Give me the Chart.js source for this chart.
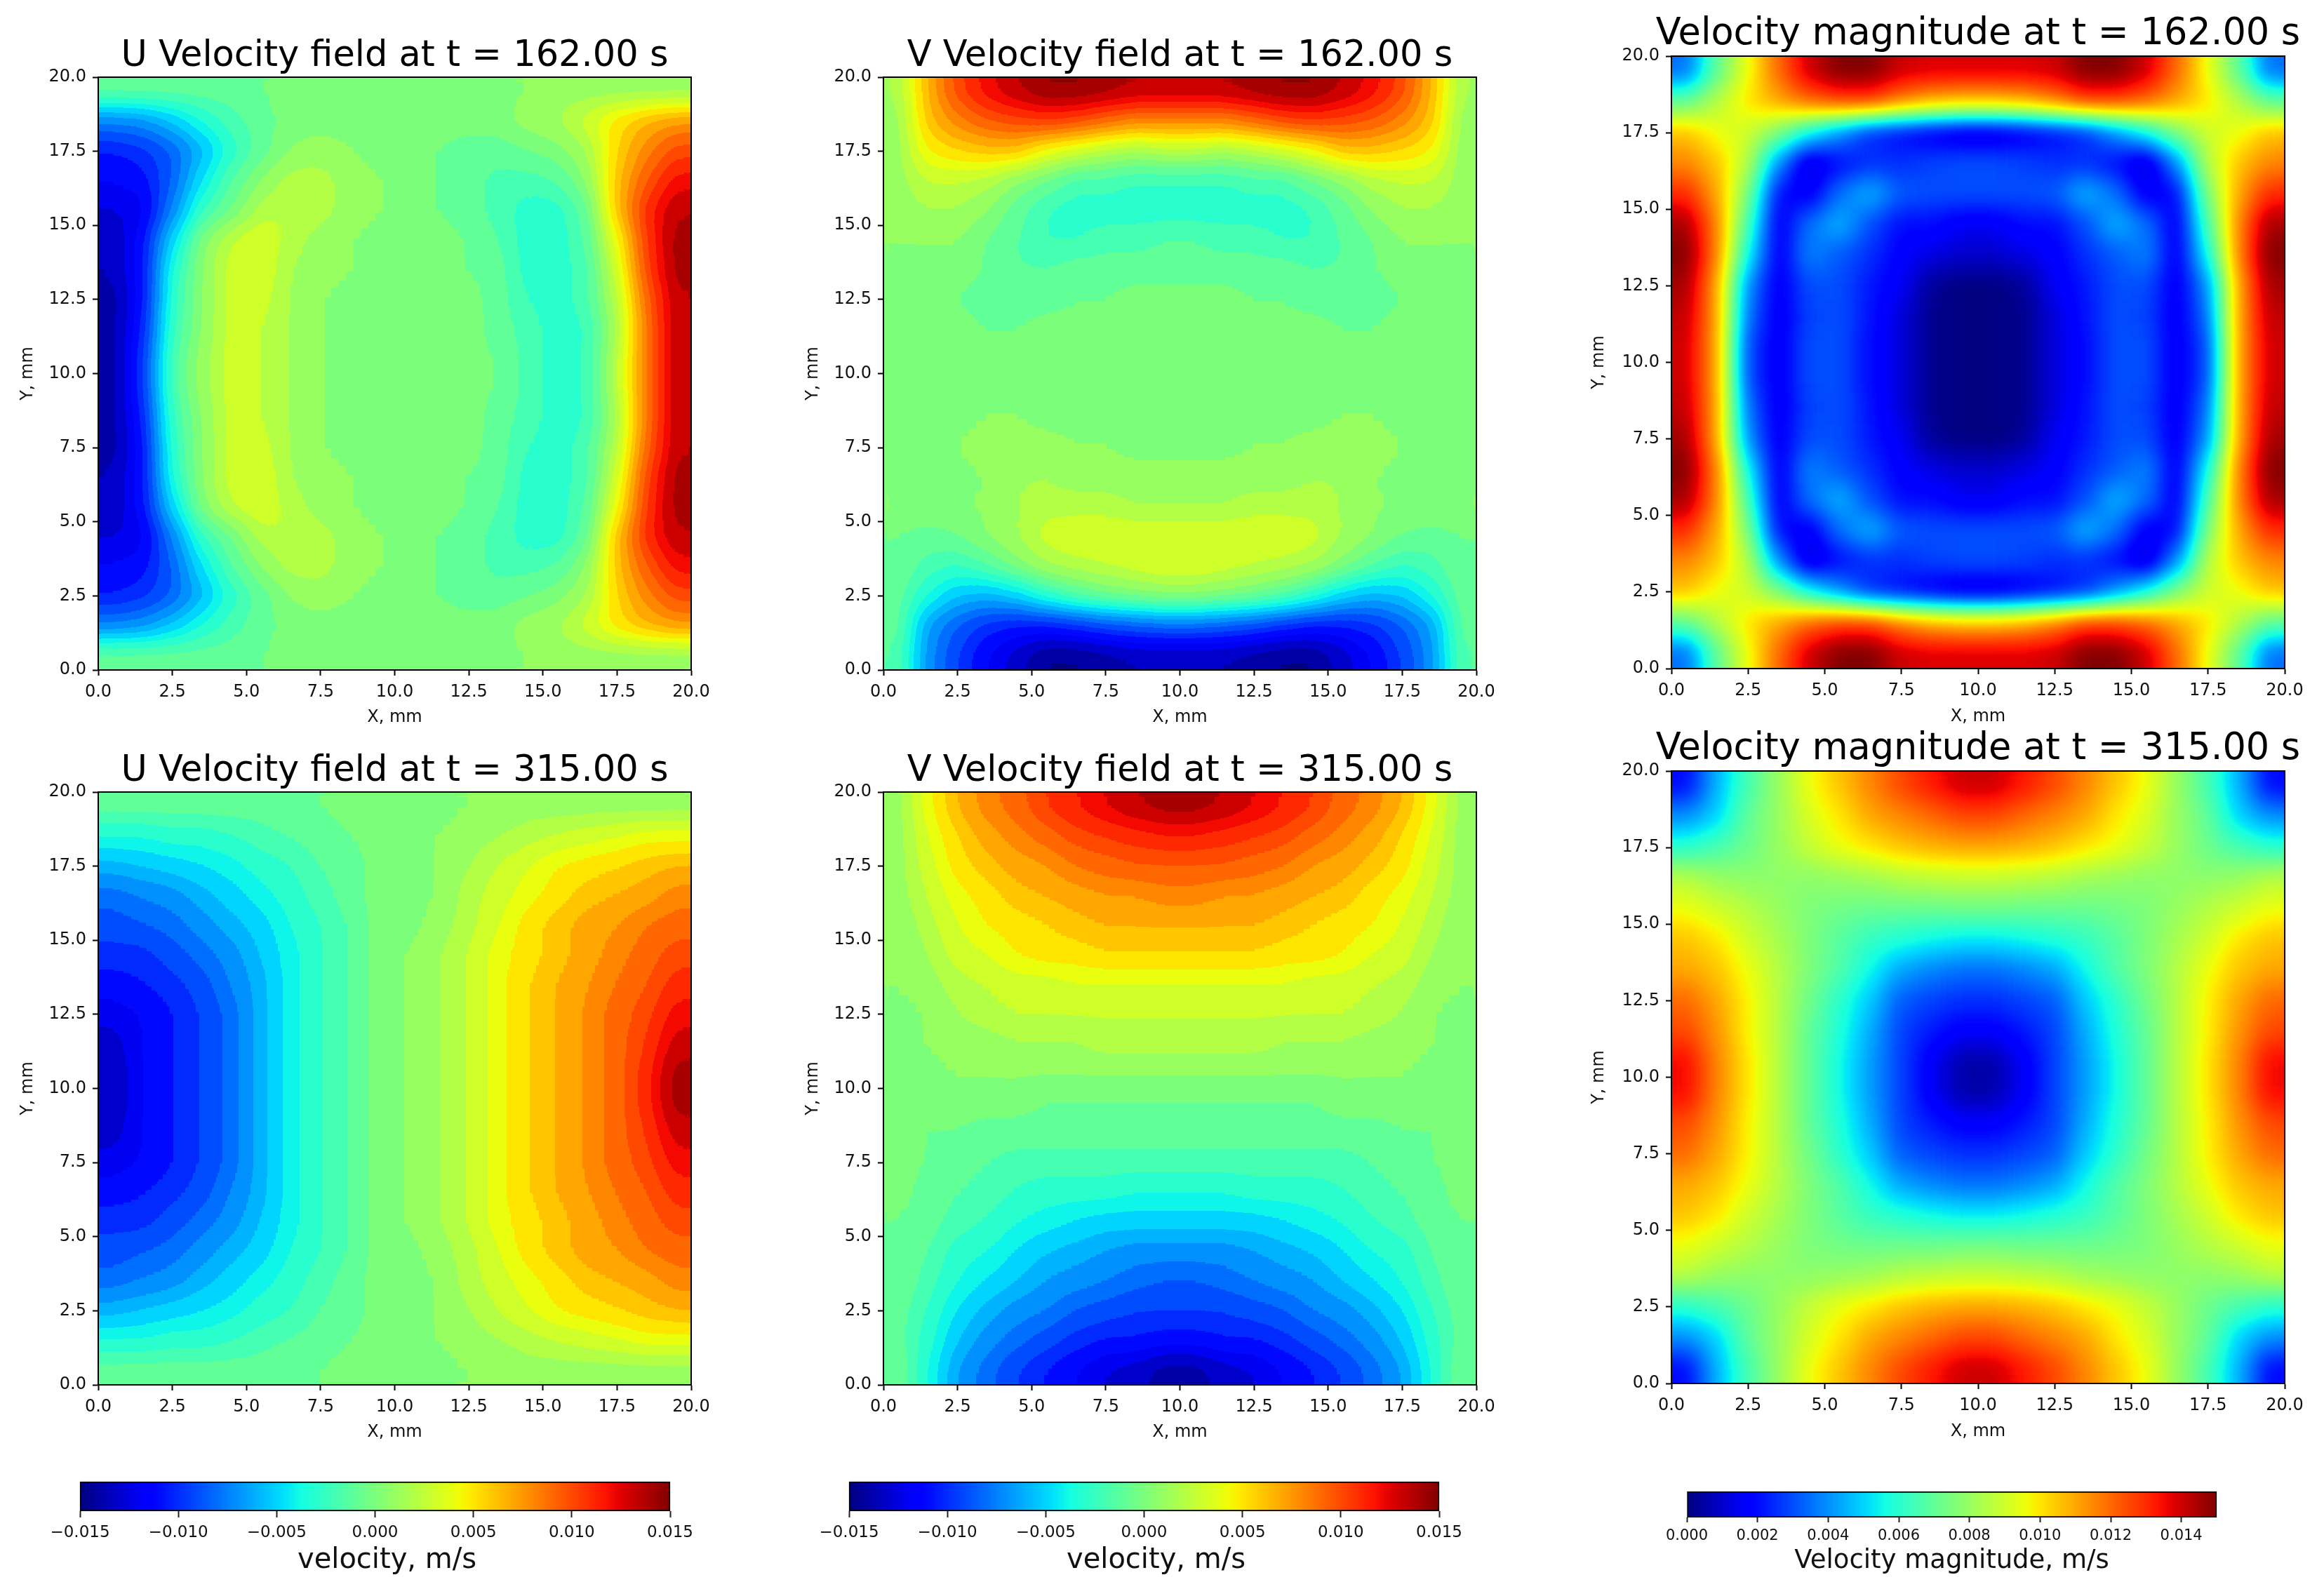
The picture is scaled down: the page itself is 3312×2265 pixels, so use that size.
<!DOCTYPE html>
<html>
<head>
<meta charset="utf-8">
<title>Velocity fields</title>
<script src="https://cdn.jsdelivr.net/npm/chart.js@4/dist/chart.umd.js"></script>
<style>
  html, body { margin: 0; background: #fff; }
  #page { position: relative; width: 3312px; height: 2265px; overflow: hidden; }
  canvas { position: absolute; }
</style>
</head>
<body>
<div id="page"></div>
<script>
// cell centres in mm, rows run top to bottom
const cellX = [0.5,1.5,2.5,3.5,4.5,5.5,6.5,7.5,8.5,9.5,10.5,11.5,12.5,13.5,14.5,15.5,16.5,17.5,18.5,19.5];
const cellY = [19.5,18.5,17.5,16.5,15.5,14.5,13.5,12.5,11.5,10.5,9.5,8.5,7.5,6.5,5.5,4.5,3.5,2.5,1.5,0.5];

// all fields in 1e-3 m/s
const uField162 = [
  [-1,-1,-1,-1,-1,-.5,0,0,0,0,0,0,0,0,.5,1,1,1,1,1],
  [-7.5,-7,-5.5,-3.5,-2,-1,0,0,0,0,0,0,0,0,1,1.5,3,5,6.5,7.5],
  [-10.5,-10,-8.5,-6,-3,-1,.5,1,.5,0,0,-.5,-1,-1,-.5,0,1.5,5.5,8,10],
  [-11.5,-11,-8.5,-4.5,-1.5,.5,2,2,1,.5,0,-.5,-1,-2,-2,-1.5,.5,6,9.5,12],
  [-12.5,-12,-7.5,-2.5,-.5,2,2.5,2,1,.5,0,-.5,-1,-2,-3,-3,-1,6,11,13.5],
  [-13.5,-11,-5,0,2.5,3.5,2,1,.5,0,0,0,-.5,-1.5,-3,-3,-1.5,4,10.5,14],
  [-13.5,-11,-3.5,.5,3,3.5,1.5,1,.5,0,0,0,-.5,-1,-3,-3,-2,3,10,14],
  [-14,-11,-3,.5,3,3,1.5,.5,0,0,0,0,0,-1,-2.5,-3,-2,2,9,13.5],
  [-14,-10.5,-2.5,.5,3,2.5,1.5,.5,0,0,0,0,0,-1,-2,-3,-2.5,1.5,8.5,13.5],
  [-14,-10,-2,1,3,2.5,1.5,.5,0,0,0,0,0,-.5,-2,-3,-2.5,2,8.5,13.5],
  [-14,-10,-2,1,3,2.5,1.5,.5,0,0,0,0,0,-.5,-2,-3,-2.5,2,8.5,13.5],
  [-14,-10.5,-2.5,.5,3,2.5,1.5,.5,0,0,0,0,0,-1,-2,-3,-2.5,1.5,8.5,13.5],
  [-14,-11,-3,.5,3,3,1.5,.5,0,0,0,0,0,-1,-2.5,-3,-2,2,9,13.5],
  [-13.5,-11,-3.5,.5,3,3.5,1.5,1,.5,0,0,0,-.5,-1,-3,-3,-2,3,10,14],
  [-13.5,-11,-5,0,2.5,3.5,2,1,.5,0,0,0,-.5,-1.5,-3,-3,-1.5,4,10.5,14],
  [-12.5,-12,-7.5,-2.5,-.5,2,2.5,2,1,.5,0,-.5,-1,-2,-3,-3,-1,6,11,13.5],
  [-11.5,-11,-8.5,-4.5,-1.5,.5,2,2,1,.5,0,-.5,-1,-2,-2,-1.5,.5,6,9.5,12],
  [-10.5,-10,-8.5,-6,-3,-1,.5,1,.5,0,0,-.5,-1,-1,-.5,0,1.5,5.5,8,10],
  [-7.5,-7,-5.5,-3.5,-2,-1,0,0,0,0,0,0,0,0,1,1.5,3,5,6.5,7.5],
  [-1,-1,-1,-1,-1,-.5,0,0,0,0,0,0,0,0,.5,1,1,1,1,1]
];

const vField162 = [
  [1.5,6.5,10,12,13.5,14.5,14.5,14,13.5,13.5,13.5,13.5,14,14.5,14.5,13.5,12,10,6.5,1.5],
  [1,6,8,9.5,10,10.5,10,9,8,8,8,8,9,10,10.5,10,9.5,8,6,1],
  [1,4.5,5.5,6,6,4,3,2,1.5,2,2,1.5,2,3,4,6,6,5.5,4.5,1],
  [1,2.5,2.5,2,.5,-.5,-2,-2,-2.5,-2.5,-2.5,-2.5,-2,-2,-.5,.5,2,2.5,2.5,1],
  [1,1.5,1.5,.5,-1,-2.5,-3,-3,-3,-3,-3,-3,-3,-3,-2.5,-1,.5,1.5,1.5,1],
  [.5,.5,.5,-.5,-1.5,-2.5,-2.5,-2,-2,-1.5,-1.5,-2,-2,-2.5,-2.5,-1.5,-.5,.5,.5,.5],
  [0,0,0,-.5,-1.5,-1.5,-1,-1,-1,-1,-1,-1,-1,-1,-1.5,-1.5,-.5,0,0,0],
  [0,0,-.5,-1,-1,-1,-.5,-.5,0,0,0,0,-.5,-.5,-1,-1,-1,-.5,0,0],
  [0,0,0,-.5,-.5,0,0,0,0,0,0,0,0,0,0,-.5,-.5,0,0,0],
  [0,0,0,0,0,0,0,0,0,0,0,0,0,0,0,0,0,0,0,0],
  [0,0,0,0,0,0,0,0,0,0,0,0,0,0,0,0,0,0,0,0],
  [0,0,0,.5,.5,0,0,0,0,0,0,0,0,0,0,.5,.5,0,0,0],
  [0,0,.5,1,1,1,.5,.5,0,0,0,0,.5,.5,1,1,1,.5,0,0],
  [0,0,0,.5,1.5,1.5,1,1,1,1,1,1,1,1,1.5,1.5,.5,0,0,0],
  [.5,.5,.5,.5,1.5,2,2,2,1.5,1.5,1.5,1.5,2,2,2,1.5,.5,.5,.5,.5],
  [-.5,-1,-.5,.5,1.5,3,3.5,3.5,3.5,3.5,3.5,3.5,3.5,3.5,3,1.5,.5,-.5,-1,-.5],
  [-.5,-2,-2.5,-1.5,0,1.5,2,2.5,3,3.5,3.5,3,2.5,2,1.5,0,-1.5,-2.5,-2,-.5],
  [-1,-3.5,-5.5,-6,-5,-3,-1.5,-.5,0,.5,.5,0,-.5,-1.5,-3,-5,-6,-5.5,-3.5,-1],
  [-1,-6.5,-8.5,-10,-10.5,-10.5,-10,-9,-8.5,-8,-8,-8.5,-9,-10,-10.5,-10.5,-10,-8.5,-6.5,-1],
  [-1.5,-7,-9.5,-11.5,-13,-14.5,-14.5,-14,-13.5,-13.5,-13.5,-13.5,-14,-14.5,-14.5,-13,-11.5,-9.5,-7,-1.5]
];

const speedField162 = [
  [3.5,7,9.5,12,14,15,15,14,13.8,13.8,13.8,13.8,14,15,15,14,12,9.5,7,3.5],
  [7,8.5,10,11,12,12.5,12.5,11.5,10.8,10.5,10.5,10.8,11.5,12.5,12.5,12,11,10,8.5,7],
  [10.5,9.5,9,7.5,5.5,4,2.5,2,1.5,1.2,1.2,1.5,2,2.5,4,5.5,7.5,9,9.5,10.5],
  [11.5,10.5,8.5,4,1,2,2.5,2.5,2.8,3,3,2.8,2.5,2.5,2,1,4,8.5,10.5,11.5],
  [13,11,7.5,2,1.5,3.5,4.5,3.2,3,3,3,3,3.2,4.5,3.5,1.5,2,7.5,11,13],
  [14.5,11.5,6.5,1.5,3.5,4.5,3,2,2,1.5,1.5,2,2,3,4.5,3.5,1.5,6.5,11.5,14.5],
  [15,11.5,5.5,1.5,3.8,3.2,2.5,1.7,1.3,1,1,1.3,1.7,2.5,3.2,3.8,1.5,5.5,11.5,15],
  [14.5,11,4,1.5,3,3,2.2,1.5,.3,0,0,.3,1.5,2.2,3,3,1.5,4,11,14.5],
  [14.2,11,3.5,1.5,2.8,3,2.1,1.2,.2,0,0,.2,1.2,2.1,3,2.8,1.5,3.5,11,14.2],
  [14,11,3,1.5,3,3,2,1.2,.2,0,0,.2,1.2,2,3,3,1.5,3,11,14],
  [14,11,3,1.5,3,3,2,1.2,.2,0,0,.2,1.2,2,3,3,1.5,3,11,14],
  [14.2,11,3.5,1.5,2.8,3,2.1,1.2,.2,0,0,.2,1.2,2.1,3,2.8,1.5,3.5,11,14.2],
  [14.5,11,4,1.5,3,3,2.2,1.5,.3,0,0,.3,1.5,2.2,3,3,1.5,4,11,14.5],
  [15,11.5,5.5,1.5,3.8,3.2,2.5,1.7,1.3,1,1,1.3,1.7,2.5,3.2,3.8,1.5,5.5,11.5,15],
  [14.5,11.5,6.5,1.5,3.5,4.5,3,2,2,1.5,1.5,2,2,3,4.5,3.5,1.5,6.5,11.5,14.5],
  [13,11,7.5,2,1.5,3.5,4.5,3.2,3,3,3,3,3.2,4.5,3.5,1.5,2,7.5,11,13],
  [11.5,10.5,8.5,4,1,2,2.5,2.5,2.8,3,3,2.8,2.5,2.5,2,1,4,8.5,10.5,11.5],
  [10.5,9.5,9,7.5,5.5,4,2.5,2,1.5,1.2,1.2,1.5,2,2.5,4,5.5,7.5,9,9.5,10.5],
  [7,8.5,10,11,12,12.5,12.5,11.5,10.8,10.5,10.5,10.8,11.5,12.5,12.5,12,11,10,8.5,7],
  [3.5,7,9.5,12,14,15,15,14,13.8,13.8,13.8,13.8,14,15,15,14,12,9.5,7,3.5]
];

const uField315 = [
  [-1,-1,-1,-1,-1,-1,-.5,-.5,0,0,0,0,.5,.5,1,1,1,1,1,1],
  [-3.5,-3.5,-3,-3,-2.5,-2,-1.5,-1,-.5,0,0,.5,1,1.5,2,2.5,3,3.5,4,4],
  [-6,-5.5,-5,-4.5,-4,-3,-2.5,-1.5,-1,0,0,.5,1.5,2.5,3.5,4.5,5,5.5,6,6.5],
  [-8,-7.5,-7,-6,-5,-4,-3,-2,-1,0,0,.5,2,3,4,5,6,6.5,7,8],
  [-9,-8.5,-8,-7,-6,-5,-3.5,-2.5,-1.5,0,0,1,2,3.5,5,6,7,7.5,8.5,9],
  [-10,-10,-9,-8,-7,-5.5,-4,-2.5,-1.5,0,.5,1.5,2.5,4,5,6,7,8,9,10],
  [-11,-10.5,-10,-9,-7.5,-6,-4,-2.5,-1.5,0,.5,1.5,2.5,4,5.5,6.5,7.5,8.5,9.5,11],
  [-12,-11.5,-10.5,-9.5,-8,-6,-4,-2.5,-1.5,0,.5,1.5,2.5,4,5.5,6.5,7.7,9,10,12],
  [-13,-11.5,-10.5,-9.5,-8,-6,-4,-2.5,-1.5,0,.5,1.5,2.5,4,5.5,6.5,7.7,9,10.5,13],
  [-13.5,-11.5,-10.5,-9.5,-8,-6,-4,-2.5,-1.5,0,.5,1.5,2.5,4,5.5,6.5,7.7,9,11,14],
  [-13.5,-11.5,-10.5,-9.5,-8,-6,-4,-2.5,-1.5,0,.5,1.5,2.5,4,5.5,6.5,7.7,9,11,14],
  [-13,-11.5,-10.5,-9.5,-8,-6,-4,-2.5,-1.5,0,.5,1.5,2.5,4,5.5,6.5,7.7,9,10.5,13],
  [-12,-11.5,-10.5,-9.5,-8,-6,-4,-2.5,-1.5,0,.5,1.5,2.5,4,5.5,6.5,7.7,9,10,12],
  [-11,-10.5,-10,-9,-7.5,-6,-4,-2.5,-1.5,0,.5,1.5,2.5,4,5.5,6.5,7.5,8.5,9.5,11],
  [-10,-10,-9,-8,-7,-5.5,-4,-2.5,-1.5,0,.5,1.5,2.5,4,5,6,7,8,9,10],
  [-9,-8.5,-8,-7,-6,-5,-3.5,-2.5,-1.5,0,0,1,2,3.5,5,6,7,7.5,8.5,9],
  [-8,-7.5,-7,-6,-5,-4,-3,-2,-1,0,0,.5,2,3,4,5,6,6.5,7,8],
  [-6,-5.5,-5,-4.5,-4,-3,-2.5,-1.5,-1,0,0,.5,1.5,2.5,3.5,4.5,5,5.5,6,6.5],
  [-3.5,-3.5,-3,-3,-2.5,-2,-1.5,-1,-.5,0,0,.5,1,1.5,2,2.5,3,3.5,4,4],
  [-1,-1,-1,-1,-1,-1,-.5,-.5,0,0,0,0,.5,.5,1,1,1,1,1,1]
];

const vField315 = [
  [1,4,6.5,8,9,10.5,11.5,12.5,13.5,14,14,13.5,12.5,11.5,10.5,9,8,6.5,4,1],
  [1,3.5,5.5,7,8,9,10,10.5,11,11.5,11.5,11,10.5,10,9,8,7,5.5,3.5,1],
  [1,3,5,6,7,7.5,8.5,9,9.5,9.5,9.5,9.5,9,8.5,7.5,7,6,5,3,1],
  [1,2.5,4,5,6,6.5,7,7.5,7.5,8,8,7.5,7.5,7,6.5,6,5,4,2.5,1],
  [.5,2,3.5,4.5,5,5.5,6,6.5,6.5,6.5,6.5,6.5,6.5,6,5.5,5,4.5,3.5,2,.5],
  [.5,1.5,3,3.5,4.5,5,5,5.5,5.5,5.5,5.5,5.5,5.5,5,5,4.5,3.5,3,1.5,.5],
  [.5,1,2,2.5,3,3,3.5,3.5,3.5,3.5,3.5,3.5,3.5,3.5,3,3,2.5,2,1,.5],
  [0,.5,1.5,2,2.5,2.5,2.5,2.5,2.5,2.5,2.5,2.5,2.5,2.5,2.5,2.5,2,1.5,.5,0],
  [0,.5,1,1,1.5,1.5,1.5,2,2,2,2,2,2,1.5,1.5,1.5,1,1,.5,0],
  [0,0,.5,.5,.5,.5,.5,.5,.5,.5,.5,.5,.5,.5,.5,.5,.5,.5,0,0],
  [0,0,0,0,0,-.5,-.5,-.5,-.5,-.5,-.5,-.5,-.5,-.5,-.5,0,0,0,0,0],
  [0,-.5,-.5,-1,-1,-1,-1,-1,-1,-1,-1,-1,-1,-1,-1,-1,-1,-.5,-.5,0],
  [0,-.5,-1,-1.5,-2,-2,-2,-2,-2,-2,-2,-2,-2,-2,-2,-2,-1.5,-1,-.5,0],
  [0,-1,-1.5,-2,-2.5,-3,-3,-3,-3.5,-3.5,-3.5,-3.5,-3,-3,-3,-2.5,-2,-1.5,-1,0],
  [-.5,-1,-2,-2.5,-3.5,-4,-4.5,-5,-5,-5,-5,-5,-5,-4.5,-4,-3.5,-2.5,-2,-1,-.5],
  [-.5,-1.5,-3,-3.5,-4.5,-5.5,-6,-6.5,-7,-7,-7,-7,-6.5,-6,-5.5,-4.5,-3.5,-3,-1.5,-.5],
  [-.5,-2,-3.5,-4.5,-5.5,-6.5,-7,-7.5,-8,-8.5,-8.5,-8,-7.5,-7,-6.5,-5.5,-4.5,-3.5,-2,-.5],
  [-1,-2.5,-4.5,-6,-7,-7.5,-8.5,-9,-9.5,-9.5,-9.5,-9.5,-9,-8.5,-7.5,-7,-6,-4.5,-2.5,-1],
  [-1,-3,-5.5,-7,-8,-9,-10,-10.5,-10.5,-11,-11,-10.5,-10.5,-10,-9,-8,-7,-5.5,-3,-1],
  [-.5,-3.5,-6.5,-8,-9.5,-10.5,-11.5,-12.5,-13,-14,-14,-13,-12.5,-11.5,-10.5,-9.5,-8,-6.5,-3.5,-.5]
];

const speedField315 = [
  [2,4.5,6.5,8,9.5,10.5,11.5,12.5,13.3,14,14,13.3,12.5,11.5,10.5,9.5,8,6.5,4.5,2],
  [4,5,7,8,9.2,10,11,11.5,12,12.5,12.5,12,11.5,11,10,9.2,8,7,5,4],
  [6,6.5,7.2,8,8.8,9.5,10,10.5,10.8,11,11,10.8,10.5,10,9.5,8.8,8,7.2,6.5,6],
  [8.5,8,7.8,7.8,7.8,8,8.2,8.5,8.7,8.8,8.8,8.7,8.5,8.2,8,7.8,7.8,7.8,8,8.5],
  [9.5,9,8.5,8,7.5,7.3,7.2,7.2,7.2,7.3,7.3,7.2,7.2,7.2,7.3,7.5,8,8.5,9,9.5],
  [10.5,10,9,8.3,7.5,6.8,6.2,5.8,5.5,5.3,5.3,5.5,5.8,6.2,6.8,7.5,8.3,9,10,10.5],
  [11,10.5,9.5,8.5,7.5,6.7,5.5,4.3,3.8,3.5,3.5,3.8,4.3,5.5,6.7,7.5,8.5,9.5,10.5,11],
  [12,11,9.8,8.5,7.3,6,4.8,3.2,2.8,2.5,2.5,2.8,3.2,4.8,6,7.3,8.5,9.8,11,12],
  [12.5,11.3,9.8,8.5,7,5.8,4.4,2.8,2.2,1.7,1.7,2.2,2.8,4.4,5.8,7,8.5,9.8,11.3,12.5],
  [13.5,11.5,10,8.5,7,5.6,4.2,2.8,1.6,.5,.5,1.6,2.8,4.2,5.6,7,8.5,10,11.5,13.5],
  [13.5,11.5,10,8.5,7,5.6,4.2,2.8,1.6,.5,.5,1.6,2.8,4.2,5.6,7,8.5,10,11.5,13.5],
  [12.5,11.3,9.8,8.5,7,5.8,4.4,2.8,2.2,1.7,1.7,2.2,2.8,4.4,5.8,7,8.5,9.8,11.3,12.5],
  [12,11,9.8,8.5,7.3,6,4.8,3.2,2.8,2.5,2.5,2.8,3.2,4.8,6,7.3,8.5,9.8,11,12],
  [11,10.5,9.5,8.5,7.5,6.7,5.5,4.3,3.8,3.5,3.5,3.8,4.3,5.5,6.7,7.5,8.5,9.5,10.5,11],
  [10.5,10,9,8.3,7.5,6.8,6.2,5.8,5.5,5.3,5.3,5.5,5.8,6.2,6.8,7.5,8.3,9,10,10.5],
  [9.5,9,8.5,8,7.5,7.3,7.2,7.2,7.2,7.3,7.3,7.2,7.2,7.2,7.3,7.5,8,8.5,9,9.5],
  [8.5,8,7.8,7.8,7.8,8,8.2,8.5,8.7,8.8,8.8,8.7,8.5,8.2,8,7.8,7.8,7.8,8,8.5],
  [6,6.5,7.2,8,8.8,9.5,10,10.5,10.8,11,11,10.8,10.5,10,9.5,8.8,8,7.2,6.5,6],
  [4,5,7,8,9.2,10,11,11.5,12,12.5,12.5,12,11.5,11,10,9.2,8,7,5,4],
  [2,4.5,6.5,8,9.5,10.5,11.5,12.5,13.3,14,14,13.3,12.5,11.5,10.5,9.5,8,6.5,4.5,2]
];

const axisTicks = [0, 2.5, 5, 7.5, 10, 12.5, 15, 17.5, 20];
const velocityTicks = [-0.015, -0.01, -0.005, 0, 0.005, 0.01, 0.015];
const speedTicks = [0, 0.002, 0.004, 0.006, 0.008, 0.01, 0.012, 0.014];

const FONT = "'DejaVu Sans', sans-serif";
const AXIS_W = 120;

// matplotlib jet, piecewise linear
function ramp(t, pts) {
  for (let i = 1; i < pts.length; i++) {
    if (t <= pts[i][0]) {
      const [t0, v0] = pts[i - 1], [t1, v1] = pts[i];
      return v0 + (v1 - v0) * (t - t0) / (t1 - t0);
    }
  }
  return pts[pts.length - 1][1];
}
function jet(t) {
  t = Math.min(1, Math.max(0, t));
  return [
    ramp(t, [[0, 0], [.35, 0], [.66, 1], [.89, 1], [1, .5]]),
    ramp(t, [[0, 0], [.125, 0], [.375, 1], [.64, 1], [.91, 0], [1, 0]]),
    ramp(t, [[0, .5], [.11, 1], [.34, 1], [.65, 0], [1, 0]])
  ].map(c => Math.round(c * 255));
}
const jetCss = t => `rgb(${jet(t).join(',')})`;

// gray level -> colour. With bands the U and V panels get contourf style
// steps of 0.001 m/s, otherwise the colour runs continuously.
function buildLut(bands) {
  const lut = [];
  for (let g = 0; g < 256; g++) {
    const t = g / 255;
    lut.push(bands ? jet(Math.round(t * 30) / 30) : jet(t));
  }
  return lut;
}

function colorize(chart, lut) {
  const a = chart.chartArea;
  const left = Math.round(a.left), top = Math.round(a.top);
  const img = chart.ctx.getImageData(left, top, Math.round(a.width), Math.round(a.height));
  const d = img.data;
  for (let i = 0; i < d.length; i += 4) {
    const c = lut[d[i]];
    d[i] = c[0]; d[i + 1] = c[1]; d[i + 2] = c[2]; d[i + 3] = 255;
  }
  chart.ctx.putImageData(img, left, top);
}

// the 1 mm cells are drawn as gray levels of their value, blurred so the value
// runs smoothly, then coloured. The plot edge is clamped outwards first so the
// blur does not fade at the frame.
const smoothField = {
  id: 'smoothField',
  afterDatasetsDraw(chart, args, opts) {
    const { ctx, canvas, chartArea: a } = chart;
    const m = opts.blur * 3;
    const tmp = document.createElement('canvas');
    tmp.width = a.width + 2 * m;
    tmp.height = a.height + 2 * m;
    const t = tmp.getContext('2d');
    t.drawImage(canvas, a.left, a.top, a.width, 1, m, 0, a.width, m);
    t.drawImage(canvas, a.left, a.bottom - 1, a.width, 1, m, m + a.height, a.width, m);
    t.drawImage(canvas, a.left, a.top, 1, a.height, 0, m, m, a.height);
    t.drawImage(canvas, a.right - 1, a.top, 1, a.height, m + a.width, m, m, a.height);
    t.drawImage(canvas, a.left, a.top, a.width, a.height, m, m, a.width, a.height);
    ctx.save();
    ctx.beginPath();
    ctx.rect(a.left, a.top, a.width, a.height);
    ctx.clip();
    ctx.filter = `blur(${opts.blur}px)`;
    ctx.drawImage(tmp, a.left - m, a.top - m);
    ctx.restore();
    colorize(chart, buildLut(opts.bands));
  }
};

function addCanvas(left, top, width, height) {
  const canvas = document.createElement('canvas');
  canvas.width = width;
  canvas.height = height;
  canvas.style.left = left + 'px';
  canvas.style.top = top + 'px';
  document.getElementById('page').appendChild(canvas);
  return canvas;
}

function fieldPoints(field) {
  const points = [];
  field.forEach((row, r) => row.forEach((v, c) => points.push({ x: cellX[c], y: cellY[r], v: v / 1000 })));
  return points;
}

function grayOf(t) {
  const g = Math.round(Math.min(1, Math.max(0, t)) * 255);
  return `rgb(${g},${g},${g})`;
}

function frameAxis(position, afterFit) {
  return {
    position, min: 0, max: 20, afterFit,
    grid: { display: false },
    ticks: { display: false },
    border: { display: true, color: '#000', width: 2, z: 1 }
  };
}

function mainAxis(position, label, labelPad, afterFit) {
  return {
    type: 'linear', position, min: 0, max: 20, afterFit,
    afterBuildTicks: scale => { scale.ticks = axisTicks.map(value => ({ value })); },
    grid: { drawOnChartArea: false, tickLength: 8, tickColor: '#000', tickWidth: 2 },
    border: { display: true, color: '#000', width: 2, z: 1 },
    ticks: {
      color: '#111', padding: 9, autoSkip: false, maxRotation: 0,
      font: { family: FONT, size: 24 },
      callback: value => Number(value).toFixed(1)
    },
    title: { display: true, text: label, color: '#111', padding: labelPad, font: { family: FONT, size: 24 } }
  };
}

function fieldPanel(cfg) {
  const width = cfg.w + 2 * AXIS_W;
  const height = cfg.titleH + cfg.h + cfg.bottomH;
  const canvas = addCanvas(cfg.x - AXIS_W, cfg.y - cfg.titleH, width, height);
  const lo = cfg.min, hi = cfg.max;
  return new Chart(canvas, {
    type: 'scatter',
    plugins: [smoothField],
    data: {
      datasets: [{
        data: fieldPoints(cfg.field),
        clip: 0,
        pointStyle: 'rect',
        borderWidth: 0,
        pointBorderWidth: 0,
        pointRadius: c => {
          const a = c.chart.chartArea;
          return a ? a.width / 20 / 2 * Math.SQRT2 + 1 : 1;
        },
        backgroundColor: c => (c.raw ? grayOf((c.raw.v - lo) / (hi - lo)) : '#000')
      }]
    },
    options: {
      responsive: false,
      animation: false,
      events: [],
      layout: { padding: 0 },
      plugins: {
        legend: { display: false },
        tooltip: { enabled: false },
        smoothField: { blur: cfg.blur, bands: cfg.bands },
        title: {
          display: true,
          text: cfg.title,
          color: '#000',
          padding: { top: 0, bottom: cfg.titleH - 56 },
          font: { family: FONT, size: cfg.titleSize, weight: 'normal', lineHeight: 56 / cfg.titleSize }
        }
      },
      scales: {
        x: mainAxis('bottom', 'X, mm', { top: 0, bottom: cfg.xPad }, s => { s.height = cfg.bottomH; }),
        y: mainAxis('left', 'Y, mm', { top: cfg.yPad, bottom: 0 }, s => { s.width = AXIS_W; }),
        x2: frameAxis('top', s => { s.height = 0; }),
        y2: frameAxis('right', s => { s.width = AXIS_W; })
      }
    }
  });
}

function colorbar(cfg) {
  const pad = 70;
  const canvas = addCanvas(cfg.x - pad, cfg.y - 3, cfg.w + 2 * pad + 2 * cfg.labelShift, cfg.h + cfg.tickH + cfg.labelH + 3);
  return new Chart(canvas, {
    type: 'bar',
    data: {
      labels: [cfg.label],
      datasets: [{
        data: [[cfg.min, cfg.max]],
        barPercentage: 1,
        categoryPercentage: 1,
        borderWidth: 2,
        borderColor: '#000',
        borderSkipped: false,
        clip: false,
        backgroundColor: c => {
          const a = c.chart.chartArea;
          if (!a) return '#000';
          const grad = c.chart.ctx.createLinearGradient(a.left, 0, a.right, 0);
          for (let i = 0; i <= 64; i++) grad.addColorStop(i / 64, jetCss(i / 64));
          return grad;
        }
      }]
    },
    options: {
      indexAxis: 'y',
      responsive: false,
      animation: false,
      events: [],
      layout: { padding: { top: 3 } },
      plugins: {
        legend: { display: false },
        tooltip: { enabled: false },
        title: {
          display: true,
          position: 'bottom',
          text: cfg.label,
          color: '#111',
          padding: 0,
          font: { family: FONT, size: cfg.labelSize, weight: 'normal', lineHeight: cfg.labelH / cfg.labelSize }
        }
      },
      scales: {
        y: {
          position: 'left',
          afterFit: s => { s.width = pad; },
          grid: { display: false }, border: { display: false }, ticks: { display: false }
        },
        y2: {
          position: 'right',
          afterFit: s => { s.width = pad + 2 * cfg.labelShift; },
          grid: { display: false }, border: { display: false }, ticks: { display: false }
        },
        x: {
          type: 'linear', min: cfg.min, max: cfg.max,
          afterFit: s => { s.height = cfg.tickH; },
          afterBuildTicks: scale => { scale.ticks = cfg.ticks.map(value => ({ value })); },
          grid: { drawOnChartArea: false, tickLength: cfg.tickLen, tickColor: '#222', tickWidth: 2 },
          border: { display: false },
          ticks: {
            color: '#111', padding: cfg.tickPad, autoSkip: false, maxRotation: 0,
            font: { family: FONT, size: cfg.tickSize },
            callback: value => Number(value).toFixed(3).replace('-', '\u2212')
          }
        }
      }
    }
  });
}

function init() {
  const vel = { min: -0.015, max: 0.015, blur: 17, bands: true, titleSize: 51, titleH: 57, bottomH: 84, xPad: 2, yPad: 5, w: 845, h: 845 };
  const mag = { min: 0, max: 0.015, blur: 17, bands: false, titleSize: 52.5, titleH: 59, bottomH: 84, xPad: 1, yPad: 2, w: 874, h: 873 };
  fieldPanel({ ...vel, x: 140, y: 110, field: uField162, title: 'U Velocity field at t = 162.00 s' });
  fieldPanel({ ...vel, x: 1259, y: 110, field: vField162, title: 'V Velocity field at t = 162.00 s' });
  fieldPanel({ ...mag, x: 2382, y: 80, field: speedField162, title: 'Velocity magnitude at t = 162.00 s' });
  fieldPanel({ ...vel, x: 140, y: 1129, field: uField315, title: 'U Velocity field at t = 315.00 s' });
  fieldPanel({ ...vel, x: 1259, y: 1129, field: vField315, title: 'V Velocity field at t = 315.00 s' });
  fieldPanel({ ...mag, x: 2382, y: 1099, field: speedField315, title: 'Velocity magnitude at t = 315.00 s' });

  const velBar = { min: -0.015, max: 0.015, ticks: velocityTicks, label: 'velocity, m/s', y: 2112, w: 841, h: 42, tickH: 47, labelH: 48, labelShift: 17, tickLen: 9, tickPad: 8, tickSize: 23, labelSize: 40 };
  colorbar({ ...velBar, x: 114 });
  colorbar({ ...velBar, x: 1210 });
  colorbar({ min: 0, max: 0.015, ticks: speedTicks, label: 'Velocity magnitude, m/s', x: 2404, y: 2126, w: 755, h: 37, tickH: 40, labelH: 44, labelShift: 0, tickLen: 7, tickPad: 7, tickSize: 21, labelSize: 37 });
}

init();
</script>
</body>
</html>
